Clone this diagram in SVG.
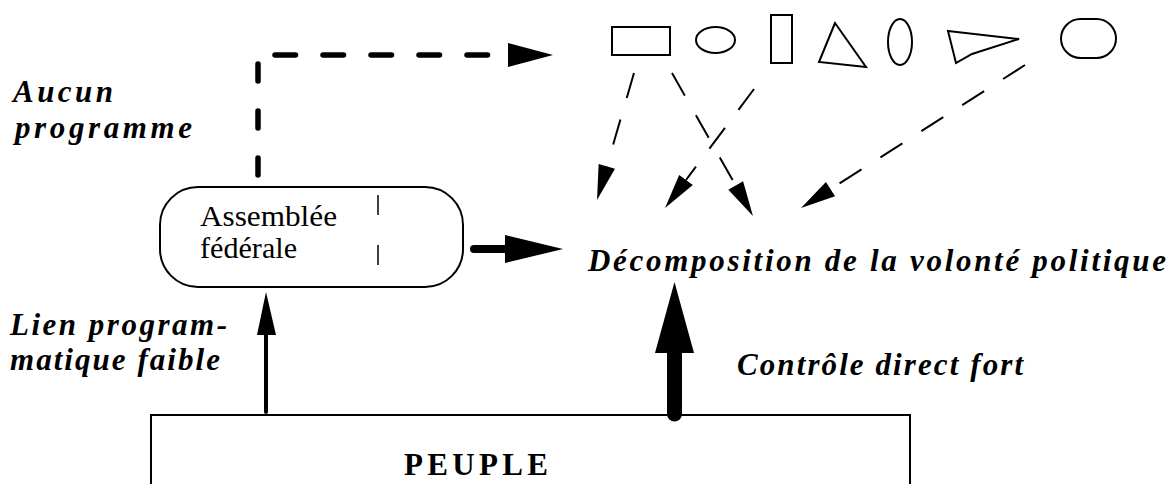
<svg xmlns="http://www.w3.org/2000/svg" width="1174" height="484" viewBox="0 0 1174 484">
  <style>
    .shape { fill: none; stroke: #000; stroke-width: 2; }
    .label { font-family: "Liberation Serif", "Times New Roman", serif; font-weight: bold; font-style: italic; font-size: 31px; fill: #000; }
    .plain { font-family: "Liberation Serif", "Times New Roman", serif; font-size: 30px; fill: #000; }
    .title { font-family: "Liberation Serif", "Times New Roman", serif; font-weight: bold; font-size: 31px; fill: #000; }
    .thin-dash { fill: none; stroke: #000; stroke-width: 2; stroke-dasharray: 26 22.5; marker-end: url(#headThin); }
    .thick-dash { fill: none; stroke: #000; stroke-width: 5.5; stroke-linecap: round; }
    .head { fill: #000; stroke: none; }
  </style>
  <defs>
    <marker id="headThin" markerUnits="userSpaceOnUse" markerWidth="36" markerHeight="18" refX="0" refY="8.5" orient="auto" overflow="visible">
      <path d="M0,0 L35,8.5 L0,17 z" fill="#000"/>
    </marker>
  </defs>

  <rect width="1174" height="484" fill="#fff"/>

  <!-- shape palette -->
  <g id="shapes" class="shape">
    <rect x="612" y="27" width="58" height="28"/>
    <ellipse cx="715.5" cy="40" rx="19.5" ry="13"/>
    <rect x="771" y="15" width="21" height="48"/>
    <polygon points="835,23 819,62 866,67"/>
    <ellipse cx="900" cy="42" rx="12" ry="23"/>
    <polygon points="948,31 1019,39 972,54 956,63"/>
    <rect x="1061" y="19" width="55" height="39" rx="19.5" ry="19.5"/>
  </g>

  <g id="assemblee">
    <rect class="shape" x="160" y="187" width="303" height="100" rx="38" ry="38"/>
    <text class="plain" x="200" y="226" textLength="137" lengthAdjust="spacingAndGlyphs">Assemblée</text>
    <text class="plain" x="200" y="258" textLength="97" lengthAdjust="spacingAndGlyphs">fédérale</text>
    <line x1="378" y1="195" x2="378" y2="215" stroke="#000" stroke-width="1.5"/>
    <line x1="378" y1="245" x2="378" y2="265" stroke="#000" stroke-width="1.5"/>
  </g>

  <g id="peuple">
    <rect class="shape" x="151" y="415" width="759" height="80"/>
    <text class="title" x="404" y="475" textLength="144" lengthAdjust="spacing">PEUPLE</text>
  </g>

  <g id="decomposition">
    <text class="label" x="588" y="271" font-size="33" textLength="578" lengthAdjust="spacing">Décomposition de la volonté politique</text>
  </g>

  <g id="labels">
    <text class="label" x="13" y="102" font-size="29" textLength="100" lengthAdjust="spacing">Aucun</text>
    <text class="label" x="15" y="138" font-size="29" textLength="177" lengthAdjust="spacing">programme</text>
    <text class="label" x="10" y="335" textLength="217" lengthAdjust="spacing">Lien program-</text>
    <text class="label" x="10" y="370" textLength="210" lengthAdjust="spacing">matique faible</text>
    <text class="label" x="737" y="375" font-size="32" textLength="286" lengthAdjust="spacing">Contrôle direct fort</text>
  </g>

  <g id="connectors">
    <!-- no programme: assembly up and over to the shapes -->
    <path class="thick-dash" d="M258,175 V58" stroke-dasharray="17 30"/>
    <path class="thick-dash" d="M275,55 H490" stroke-dasharray="20.5 27.5"/>
    <polygon class="head" points="508,43 553,55 508,67"/>

    <!-- shapes feeding the decomposition -->
    <path class="thin-dash" d="M634,73 L606.8,166.4"/>
    <path class="thin-dash" d="M672,73 L735.7,185.5"/>
    <path class="thin-dash" d="M754,89 L686,180"/>
    <path class="thin-dash" d="M1025,65 L830.5,189.2"/>

    <!-- assembly to decomposition -->
    <line x1="474" y1="249" x2="510" y2="249" stroke="#000" stroke-width="8" stroke-linecap="round"/>
    <polygon class="head" points="505,235 563,249 505,263"/>

    <!-- weak programmatic link -->
    <line x1="266" y1="412" x2="266" y2="330" stroke="#000" stroke-width="4" stroke-linecap="round"/>
    <polygon class="head" points="257,335 266,292 276,335"/>

    <!-- strong direct control -->
    <line x1="674.5" y1="414" x2="674.5" y2="350" stroke="#000" stroke-width="15" stroke-linecap="round"/>
    <polygon class="head" points="655,353 674.5,282 694,353"/>
  </g>
</svg>
